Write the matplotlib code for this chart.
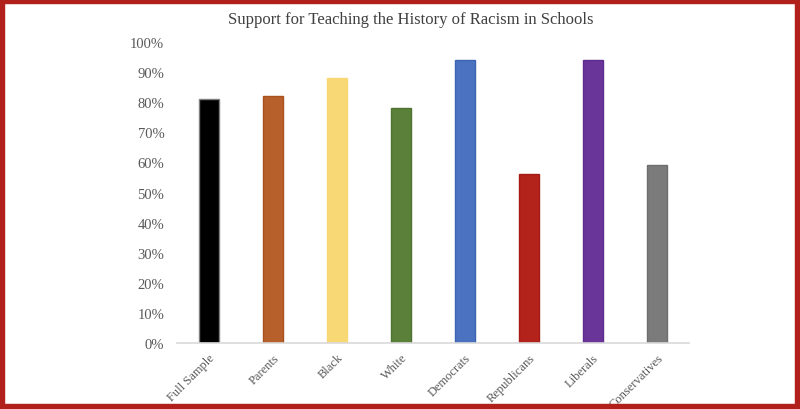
import matplotlib.pyplot as plt
from matplotlib.patches import Rectangle
from matplotlib.ticker import PercentFormatter

# Data
groups = ['Full Sample', 'Parents', 'Black', 'White', 'Democrats',
          'Republicans', 'Liberals', 'Conservatives']
support = [81, 82, 88, 78, 94, 56, 94, 59]
colors = ['#000000', '#B8602B', '#F8D775', '#5A803A', '#4A72C0',
          '#B3221B', '#6A3599', '#7B7B7B']
edge_colors = ['#7F7F7F', '#A9501F', '#F8D775', '#4E7330', '#3C64B4',
               '#A51C16', '#5E2B8E', '#6E6E6E']

plt.rcParams['font.family'] = ['Liberation Serif', 'DejaVu Serif']

fig = plt.figure(figsize=(8, 4.1), dpi=100)
ax = fig.add_axes([0.221, 0.161, 0.640, 0.734])

x = range(len(groups))
ax.bar(x, support, width=0.31, color=colors, edgecolor=edge_colors, linewidth=1)

ax.set_xlim(-0.5, len(groups) - 0.5)
ax.set_ylim(0, 100)
ax.set_yticks(range(0, 101, 10))
ax.yaxis.set_major_formatter(PercentFormatter(decimals=0))
ax.set_xticks(list(x))
ax.set_xticklabels(groups, rotation=45, ha='right', rotation_mode='anchor')

ax.tick_params(axis='y', length=0, pad=9, labelsize=10.5, labelcolor='#595959')
ax.tick_params(axis='x', length=0, pad=6, labelsize=9, labelcolor='#595959')

for side in ['top', 'right', 'left']:
    ax.spines[side].set_visible(False)
ax.spines['bottom'].set_color('#D9D9D9')
ax.spines['bottom'].set_linewidth(1.2)

fig.text(0.514, 0.952, 'Support for Teaching the History of Racism in Schools',
         ha='center', va='center', fontsize=12, color='#404040')

# red frame around the picture
fig.patches.append(Rectangle((0, 0), 1, 1, transform=fig.transFigure,
                             fill=False, edgecolor='#B1201B', linewidth=7.5,
                             zorder=10))

fig.savefig('out.png', dpi=100, facecolor='white')
